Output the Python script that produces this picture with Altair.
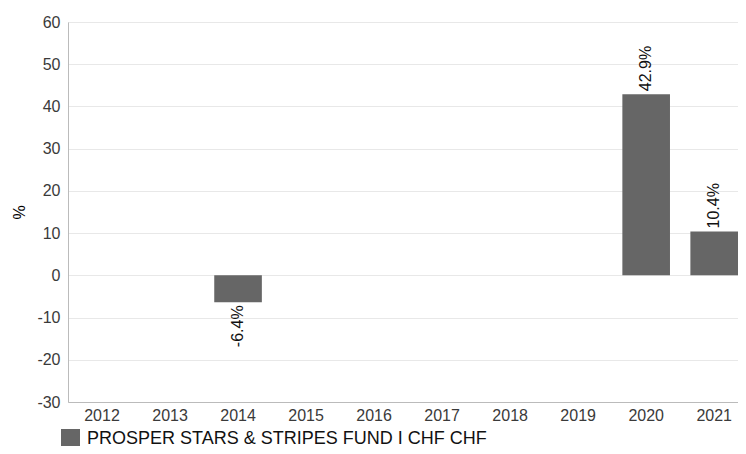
import altair as alt
import pandas as pd

years = ["2012", "2013", "2014", "2015", "2016", "2017", "2018", "2019", "2020", "2021"]
values = [None, None, -6.4, None, None, None, None, None, 42.9, 10.4]
series_name = "PROSPER STARS & STRIPES FUND I CHF CHF"

df = pd.DataFrame({"year": years, "value": values})
df["series"] = series_name
df["label"] = [("" if v is None or pd.isna(v) else f"{v:.1f}%") for v in df["value"]]

FONT = "Liberation Sans"

xscale = alt.Scale(domain=years, paddingInner=0.3, paddingOuter=0.075, align=1)

x = alt.X("year:N", scale=xscale,
          axis=alt.Axis(title=None, labelAngle=0, labelFontSize=16, labelColor="#3a3a3a",
                        labelFont=FONT, ticks=False, labelPadding=5, domainColor="#bbbbbb",
                        grid=False))
y = alt.Y("value:Q", scale=alt.Scale(domain=[-30, 60], nice=False),
          axis=alt.Axis(title="%", values=list(range(-30, 61, 10)), labelFontSize=16,
                        labelExpr="'' + datum.value",
                        labelColor="#3a3a3a", labelFont=FONT, ticks=False, labelPadding=8,
                        titleFontSize=16, titleFont=FONT, titleFontWeight="normal",
                        titleColor="#000000", titlePadding=9, domainColor="#bbbbbb",
                        gridColor="#e8e8e8"))

base = alt.Chart(df)

bars = base.mark_bar(color="#666666").encode(
    x=x, y=y,
    color=alt.Color("series:N", scale=alt.Scale(domain=[series_name], range=["#666666"]),
                    legend=alt.Legend(title=None, orient="none", legendX=-7, legendY=407,
                                      symbolType="square", symbolSize=361,
                                      symbolStrokeWidth=0, labelFontSize=18, labelFont=FONT,
                                      labelColor="#111111", labelLimit=700, labelOffset=7,
                                      padding=0))
)

pos = base.transform_filter("datum.value >= 0").mark_text(
    angle=270, align="left", baseline="middle", dx=3, fontSize=16, font=FONT, color="#111111"
).encode(x=alt.X("year:N", scale=xscale), y="value:Q", text="label:N")

neg = base.transform_filter("datum.value < 0").mark_text(
    angle=270, align="right", baseline="middle", dx=-3, fontSize=16, font=FONT, color="#111111"
).encode(x=alt.X("year:N", scale=xscale), y="value:Q", text="label:N")

chart = alt.layer(bars, pos, neg).properties(
    width=670, height=380,
    autosize=alt.AutoSizeParams(type="none"),
    padding={"left": 60, "top": 14, "right": 0, "bottom": 44},
).configure_view(stroke=None).configure(background="white")

chart.save("out.html", embed_options={"renderer": "svg", "actions": False})
